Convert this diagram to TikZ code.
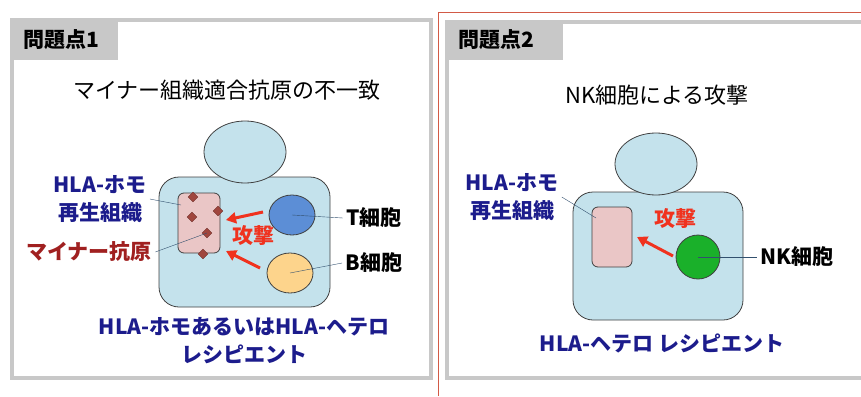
\documentclass[tikz,border=0pt]{standalone}
\usepackage{fontspec}
\setmainfont{Noto Sans CJK JP}
\usetikzlibrary{arrows.meta,shapes.geometric}
\definecolor{panelgray}{RGB}{200,200,200}
\definecolor{bodyblue}{RGB}{196,226,236}
\definecolor{tissuepink}{RGB}{234,198,198}
\definecolor{antigen}{RGB}{160,70,62}
\definecolor{tblue}{RGB}{92,142,214}
\definecolor{borange}{RGB}{253,212,140}
\definecolor{nkgreen}{RGB}{26,176,42}
\definecolor{navy}{RGB}{28,28,140}
\definecolor{darkred}{RGB}{160,32,32}
\definecolor{attackred}{RGB}{240,50,30}
\definecolor{leader}{RGB}{50,80,110}
\definecolor{rule}{RGB}{210,90,70}
\begin{document}
\begin{tikzpicture}[x=1pt,y=-1pt,
                    panel/.style = {draw = panelgray, line width = 4.5pt},
                    tab/.style = {fill = panelgray},
                    tabtext/.style = {anchor = west, font = \fontsize{21}{24}\selectfont\bfseries},
                    title/.style = {font = \fontsize{22}{26}\selectfont},
                    body/.style = {shape = rectangle, rounded corners = 20pt,
                                   draw = black!75, fill = bodyblue, thick},
                    head/.style = {shape = ellipse, draw = black!75, fill = bodyblue, thick,
                                   minimum width = 82pt, minimum height = 62pt, inner sep = 0pt},
                    tissue/.style = {shape = rectangle, rounded corners = 6pt, draw = black!75,
                                     fill = tissuepink, thick, minimum width = 42pt,
                                     minimum height = 60pt},
                    cell/.style = {shape = ellipse, draw = black!75, thick, inner sep = 0pt,
                                   minimum width = 46pt, minimum height = 40pt},
                    dia/.style = {shape = diamond, draw = antigen!70!black, fill = antigen,
                                  inner sep = 0pt, minimum size = 10pt},
                    lbl/.style = {font = \fontsize{21}{28}\selectfont\bfseries, align = center},
                    attack/.style = {draw = attackred, line width = 3pt,
                                     -{Triangle[length = 10pt, width = 11pt]}},
                    line/.style = {draw = leader, thin}]
	\useasboundingbox (0,0) rectangle (861,396);

	% frames and tabs
	\draw[panel] (12,20) rectangle (431,378);
	\fill[tab] (10,18) rectangle (118,60);
	\node[tabtext] (tab1) at (20,40) {問題点1};
	\draw[panel] (447,22) rectangle (875,378);
	\fill[tab] (445,20) rectangle (563,60);
	\node[tabtext] (tab2) at (455,40) {問題点2};
	\draw[rule] (438,396) -- (438,12) -- (861,12);

	% problem 1
	\node[title] (title1) at (227,90) {マイナー組織適合抗原の不一致};
	\node[body, minimum width = 171pt, minimum height = 130pt] (body1) at (244.5,242) {};
	\node[head] (head1) at (245,152) {};
	\node[tissue] (tissue1) at (199,223) {};
	\foreach \x/\y [count=\i] in {193/197, 192/217, 218/211, 207/233, 203/254}
		\node[dia] (ag\i) at (\x,\y) {};
	\node[cell, fill = tblue] (tcell) at (292,215) {};
	\node[cell, fill = borange] (bcell) at (290,273) {};

	\coordinate (ta) at (263,212);
	\coordinate (te) at (226,220);
	\coordinate (ba) at (260,268);
	\coordinate (be) at (226,251);
	\draw[attack] (ta) -- (te);
	\draw[attack] (ba) -- (be);
	\node[lbl, text = attackred] (atk1) at (253,235) {攻撃};

	\node[lbl, text = navy] (homo1) at (100,199) {HLA-ホモ\\再生組織};
	\coordinate (h1) at (181,205);
	\path[line] (homo1.east) edge (h1);
	\node[lbl, text = darkred] (minor) at (89,252) {マイナー抗原};
	\path[line] (minor.east) edge (ag4.center);
	\node[lbl] (tlbl) at (374,218) {T細胞};
	\path[line] (tcell.center) edge (tlbl.west);
	\node[lbl] (blbl) at (374,263) {B細胞};
	\path[line] (bcell.center) edge (blbl.west);
	\node[lbl, text = navy] (recip1) at (244,341) {HLA-ホモあるいはHLA-ヘテロ\\レシピエント};

	% problem 2
	\node[title] (title2) at (657,95) {NK細胞による攻撃};
	\node[body, minimum width = 170pt, minimum height = 128pt] (body2) at (658,256) {};
	\node[head] (head2) at (656,164) {};
	\node[tissue, minimum width = 40pt] (tissue2) at (612,237) {};
	\node[cell, fill = nkgreen, minimum width = 44pt, minimum height = 44pt] (nkcell) at (698,257) {};

	\coordinate (na) at (673,256);
	\coordinate (ne) at (637,237);
	\draw[attack] (na) -- (ne);
	\node[lbl, text = attackred] (atk2) at (675,218) {攻撃};

	\node[lbl, text = navy] (homo2) at (512,197) {HLA-ホモ\\再生組織};
	\coordinate (h2) at (596,218);
	\path[line] (homo2.east) edge (h2);
	\node[lbl] (nklbl) at (797,257) {NK細胞};
	\path[line] (nkcell.center) edge (nklbl.west);
	\node[lbl, text = navy] (recip2) at (662,343) {HLA-ヘテロ レシピエント};
\end{tikzpicture}
\end{document}
